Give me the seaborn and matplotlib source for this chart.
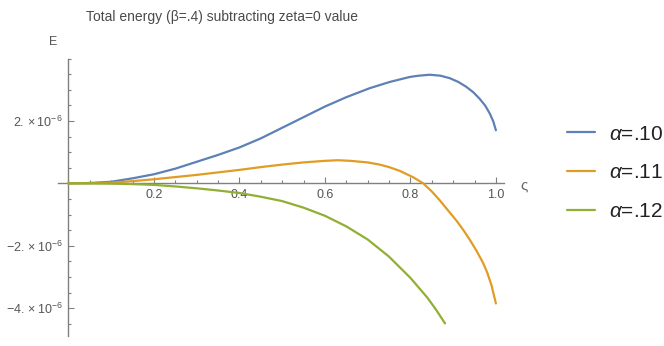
import numpy as np
import pandas as pd
import matplotlib
matplotlib.use("Agg")
import matplotlib.pyplot as plt
import seaborn as sns
from matplotlib.ticker import MultipleLocator, FixedLocator

sns.set_theme(style="white")
plt.rcParams['font.family'] = ['Liberation Sans', 'DejaVu Sans']
plt.rcParams['mathtext.fontset'] = 'custom'
plt.rcParams['mathtext.rm'] = 'Liberation Sans'
plt.rcParams['mathtext.it'] = 'Liberation Sans:italic'

# values (E in units of 1e-6)
zeta_10 = [0, 0.05, 0.1, 0.15, 0.2, 0.25, 0.3, 0.35, 0.4, 0.45, 0.5, 0.55, 0.6,
           0.65, 0.705, 0.752, 0.799, 0.82, 0.845, 0.87, 0.892, 0.912, 0.931,
           0.947, 0.962, 0.975, 0.986, 0.994, 1.0]
e_10 = [0, 0.01, 0.05, 0.16, 0.29, 0.47, 0.69, 0.91, 1.15, 1.44, 1.78, 2.12, 2.46,
        2.76, 3.05, 3.25, 3.41, 3.45, 3.48, 3.45, 3.37, 3.25, 3.09,
        2.92, 2.71, 2.49, 2.23, 1.98, 1.70]

zeta_11 = [0, 0.05, 0.1, 0.15, 0.2, 0.25, 0.3, 0.35, 0.4, 0.45, 0.5, 0.55, 0.6,
           0.63, 0.66, 0.7, 0.728, 0.75, 0.775, 0.807, 0.83, 0.85, 0.869, 0.89,
           0.908, 0.925, 0.939, 0.955, 0.97, 0.98, 0.99, 1.0]
e_11 = [0, 0.005, 0.02, 0.07, 0.13, 0.2, 0.27, 0.35, 0.43, 0.52, 0.6, 0.67, 0.72,
        0.74, 0.72, 0.67, 0.6, 0.52, 0.4, 0.19, 0.0, -0.26, -0.55, -0.9,
        -1.2, -1.52, -1.81, -2.17, -2.55, -2.87, -3.28, -3.85]

zeta_12 = [0, 0.05, 0.1, 0.15, 0.2, 0.25, 0.3, 0.35, 0.4, 0.45, 0.5, 0.55, 0.6,
           0.65, 0.7, 0.75, 0.8, 0.84, 0.86, 0.881]
e_12 = [0, -0.002, -0.01, -0.025, -0.05, -0.1, -0.16, -0.23, -0.31, -0.43, -0.57,
        -0.78, -1.04, -1.38, -1.80, -2.35, -3.03, -3.67, -4.05, -4.49]

labels = [r"$\alpha$=.10", r"$\alpha$=.11", r"$\alpha$=.12"]
colors = ["#5E81B5", "#E19C24", "#8FB032"]

df = pd.concat([
    pd.DataFrame({"zeta": zeta_10, "E": np.array(e_10) * 1e-6, "alpha": labels[0]}),
    pd.DataFrame({"zeta": zeta_11, "E": np.array(e_11) * 1e-6, "alpha": labels[1]}),
    pd.DataFrame({"zeta": zeta_12, "E": np.array(e_12) * 1e-6, "alpha": labels[2]}),
])

fig = plt.figure(figsize=(6.64, 3.46), dpi=100)
ax = fig.add_axes([0.0870, 0.0283, 0.6727, 0.8026])

sns.lineplot(data=df, x="zeta", y="E", hue="alpha", palette=colors,
             estimator=None, sort=False, linewidth=1.6, ax=ax, zorder=3)

ax.set_xlim(-0.025, 1.02)
ax.set_ylim(-4.9e-6, 4.0e-6)

axis_col = "#808080"
for s in ["top", "right"]:
    ax.spines[s].set_visible(False)
for s in ["left", "bottom"]:
    ax.spines[s].set_position(("data", 0))
    ax.spines[s].set_color(axis_col)
    ax.spines[s].set_linewidth(1.0)

ax.xaxis.set_major_locator(FixedLocator([0.2, 0.4, 0.6, 0.8, 1.0]))
ax.xaxis.set_minor_locator(MultipleLocator(0.05))
ax.set_xticklabels(["0.2", "0.4", "0.6", "0.8", "1.0"])
ax.yaxis.set_major_locator(FixedLocator([-4e-6, -2e-6, 2e-6]))
ax.yaxis.set_minor_locator(MultipleLocator(0.5e-6))
ax.set_yticklabels([r"$-4.\times10^{-6}$", r"$-2.\times10^{-6}$", r"$2.\times10^{-6}$"])

ax.tick_params(which="both", direction="in", color=axis_col, width=0.8,
               labelcolor="#555555", labelsize=9, bottom=True, left=True)
ax.tick_params(which="major", length=4, pad=4)
ax.tick_params(which="minor", length=2.5)
ax.set_xlabel("")
ax.set_ylabel("")
ax.grid(False)

fig.text(222 / 664, 1 - 17 / 346, "Total energy (β=.4) subtracting zeta=0 value",
         ha="center", va="center", fontsize=10, color="#4a4a4a")
fig.text(53 / 664, 1 - 42 / 346, "E", ha="center", va="center",
         fontsize=9, color="#555555")
fig.text(524 / 664, 1 - 185 / 346, "ς", ha="center", va="center",
         fontsize=11, color="#666666")

ax.legend(frameon=False, fontsize=15, handlelength=1.35, handletextpad=0.67,
          labelspacing=0.95, loc="center left",
          bbox_to_anchor=(548 / 664, 1 - 173 / 346), bbox_transform=fig.transFigure)
for t in ax.get_legend().get_texts():
    t.set_color("#222222")

fig.savefig("out.png", dpi=100)
